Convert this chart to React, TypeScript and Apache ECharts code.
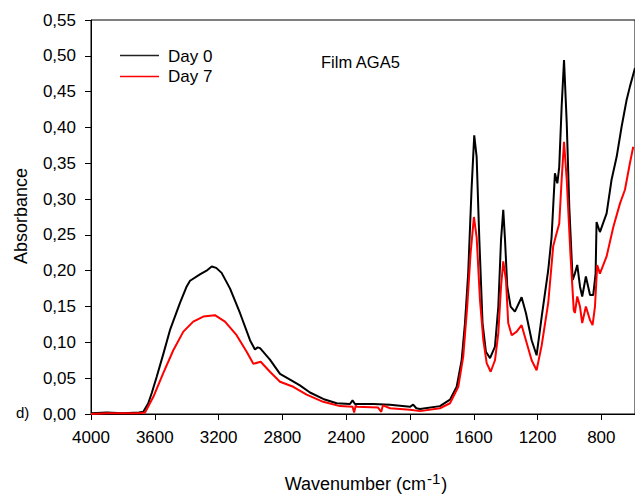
import React, { useEffect, useRef } from "react";
import * as echarts from "echarts";

const wnDay0 = [4000, 3900, 3800, 3700, 3672, 3641, 3618, 3588, 3545, 3505, 3442, 3400, 3379, 3317, 3270, 3243, 3215, 3181, 3128, 3066, 3003, 2972, 2955, 2940, 2878, 2815, 2752, 2690, 2627, 2544, 2460, 2376, 2360, 2345, 2230, 2125, 2000, 1980, 1960, 1937, 1812, 1749, 1707, 1676, 1655, 1635, 1614, 1597, 1582, 1565, 1545, 1524, 1498, 1467, 1446, 1429, 1415, 1404, 1390, 1369, 1342, 1300, 1273, 1237, 1206, 1174, 1133, 1112, 1091, 1076, 1064, 1049, 1034, 1017, 1001, 980, 966, 951, 934, 920, 897, 871, 851, 836, 830, 809, 767, 736, 704, 673, 642, 621, 589];
const absDay0 = [0.001, 0.002, 0.001, 0.002, 0.003, 0.015, 0.030, 0.052, 0.085, 0.117, 0.155, 0.178, 0.186, 0.195, 0.201, 0.206, 0.204, 0.197, 0.175, 0.141, 0.103, 0.090, 0.093, 0.092, 0.076, 0.056, 0.048, 0.040, 0.030, 0.021, 0.015, 0.014, 0.019, 0.014, 0.014, 0.013, 0.010, 0.013, 0.008, 0.007, 0.011, 0.020, 0.038, 0.075, 0.127, 0.196, 0.313, 0.389, 0.359, 0.243, 0.127, 0.087, 0.078, 0.094, 0.150, 0.243, 0.285, 0.243, 0.178, 0.150, 0.143, 0.163, 0.141, 0.103, 0.082, 0.136, 0.201, 0.247, 0.336, 0.322, 0.345, 0.429, 0.494, 0.406, 0.289, 0.187, 0.196, 0.208, 0.178, 0.164, 0.192, 0.166, 0.166, 0.196, 0.268, 0.254, 0.280, 0.327, 0.359, 0.401, 0.438, 0.457, 0.483];

const wnDay7 = [4000, 3900, 3800, 3700, 3661, 3609, 3547, 3484, 3421, 3359, 3296, 3223, 3160, 3087, 3024, 2982, 2936, 2878, 2815, 2732, 2648, 2544, 2439, 2360, 2350, 2340, 2334, 2200, 2180, 2170, 2125, 2000, 1937, 1812, 1749, 1697, 1666, 1641, 1620, 1599, 1582, 1561, 1540, 1519, 1494, 1467, 1446, 1429, 1415, 1398, 1384, 1362, 1331, 1300, 1273, 1237, 1206, 1174, 1133, 1102, 1081, 1064, 1049, 1034, 1017, 994, 973, 966, 951, 934, 920, 897, 871, 855, 840, 826, 809, 767, 725, 683, 652, 621, 600];
const absDay7 = [0.000, 0.001, 0.001, 0.001, 0.002, 0.024, 0.057, 0.089, 0.115, 0.129, 0.136, 0.138, 0.129, 0.110, 0.087, 0.070, 0.073, 0.059, 0.045, 0.038, 0.027, 0.017, 0.011, 0.010, 0.002, 0.012, 0.010, 0.009, 0.003, 0.012, 0.008, 0.006, 0.004, 0.008, 0.015, 0.038, 0.080, 0.150, 0.224, 0.275, 0.247, 0.159, 0.103, 0.071, 0.059, 0.075, 0.113, 0.178, 0.213, 0.187, 0.127, 0.110, 0.115, 0.124, 0.103, 0.075, 0.061, 0.096, 0.155, 0.234, 0.252, 0.266, 0.327, 0.380, 0.327, 0.224, 0.145, 0.141, 0.164, 0.150, 0.127, 0.150, 0.131, 0.124, 0.150, 0.208, 0.196, 0.220, 0.261, 0.294, 0.313, 0.350, 0.373];

const xTicks = [4000, 3600, 3200, 2800, 2400, 2000, 1600, 1200, 800];
const xRange = [589, 4000];
const seriesNames = ["Day 0", "Day 7"];
const seriesColors = ["#000000", "#ff0000"];
const chartTitle = "Film AGA5";
const panelLabel = "d)";
const yTitle = "Absorbance";

const FONT = "'Liberation Sans', Arial, sans-serif";

export default function App() {
  const ref = useRef<HTMLDivElement>(null);
  useEffect(() => {
    if (!ref.current) return;
    const chart = echarts.init(ref.current, null, { renderer: "svg" });
    const d0 = wnDay0.map((w, i) => [w, absDay0[i]]);
    const d7 = wnDay7.map((w, i) => [w, absDay7[i]]);
    chart.setOption({
      animation: false,
      backgroundColor: "#ffffff",
      textStyle: { fontFamily: FONT },
      grid: {
        left: 91,
        top: 20,
        right: 0,
        height: 394,
        show: true,
        borderColor: "#000",
        borderWidth: 1,
        backgroundColor: "transparent",
      },
      xAxis: {
        type: "value",
        inverse: true,
        min: xRange[0],
        max: xRange[1],
        splitLine: { show: false },
        axisLine: { show: true, lineStyle: { color: "#000", width: 1 } },
        axisTick: { show: true, inside: false, length: 6, lineStyle: { color: "#000" }, customValues: xTicks },
        axisLabel: {
          color: "#000",
          fontSize: 17,
          fontFamily: FONT,
          margin: 15,
          customValues: xTicks,
          formatter: (v: number) => String(v),
        },
      },
      yAxis: {
        type: "value",
        min: 0,
        max: 0.55,
        interval: 0.05,
        splitLine: { show: false },
        axisLine: { show: true, lineStyle: { color: "#000", width: 1 } },
        axisTick: { show: true, inside: false, length: 6, lineStyle: { color: "#000" } },
        axisLabel: {
          color: "#000",
          fontSize: 17,
          fontFamily: FONT,
          margin: 15,
          formatter: (v: number) => v.toFixed(2).replace(".", ","),
        },
      },
      series: [
        { name: seriesNames[0], type: "line", data: d0, showSymbol: false, lineStyle: { color: seriesColors[0], width: 2 }, itemStyle: { color: seriesColors[0] }, z: 2 },
        { name: seriesNames[1], type: "line", data: d7, showSymbol: false, lineStyle: { color: seriesColors[1], width: 2 }, itemStyle: { color: seriesColors[1] }, z: 3 },
      ],
      graphic: [
        { type: "line", shape: { x1: 120, y1: 55.5, x2: 159, y2: 55.5 }, style: { stroke: "#222", lineWidth: 1.3 } },
        { type: "text", x: 168, y: 56, style: { text: seriesNames[0], fontSize: 17, fontFamily: FONT, fill: "#000", align: "left", verticalAlign: "middle" } },
        { type: "line", shape: { x1: 120, y1: 76.5, x2: 159, y2: 76.5 }, style: { stroke: seriesColors[1], lineWidth: 1.3 } },
        { type: "text", x: 168, y: 76, style: { text: seriesNames[1], fontSize: 17, fontFamily: FONT, fill: "#000", align: "left", verticalAlign: "middle" } },
        { type: "text", x: 321, y: 62, style: { text: chartTitle, fontSize: 16.5, fontFamily: FONT, fill: "#000", align: "left", verticalAlign: "middle" } },
        { type: "text", x: 16, y: 412, style: { text: panelLabel, fontSize: 15, fontFamily: FONT, fill: "#000", align: "left", verticalAlign: "middle" } },
        {
          type: "text",
          x: 21,
          y: 216,
          rotation: Math.PI / 2,
          style: { text: yTitle, fontSize: 18, fontFamily: FONT, fill: "#000", align: "center", verticalAlign: "middle" },
        },
        {
          type: "text",
          x: 366,
          y: 482,
          style: {
            text: "{a|Wavenumber (cm}{b|-1}{a|)}",
            align: "center",
            verticalAlign: "middle",
            rich: {
              a: { fontSize: 18, fontFamily: FONT, fill: "#000", color: "#000", verticalAlign: "bottom", lineHeight: 22 },
              b: { fontSize: 15, fontFamily: FONT, fill: "#000", color: "#000", verticalAlign: "top", lineHeight: 22, padding: [0, 1, 10, 1] },
            },
          },
        },
      ],
    });
    return () => chart.dispose();
  }, []);
  return (
    <div
      ref={ref}
      style={{ position: "absolute", left: 0, top: 0, width: 635, height: 496, background: "#fff" }}
    />
  );
}
